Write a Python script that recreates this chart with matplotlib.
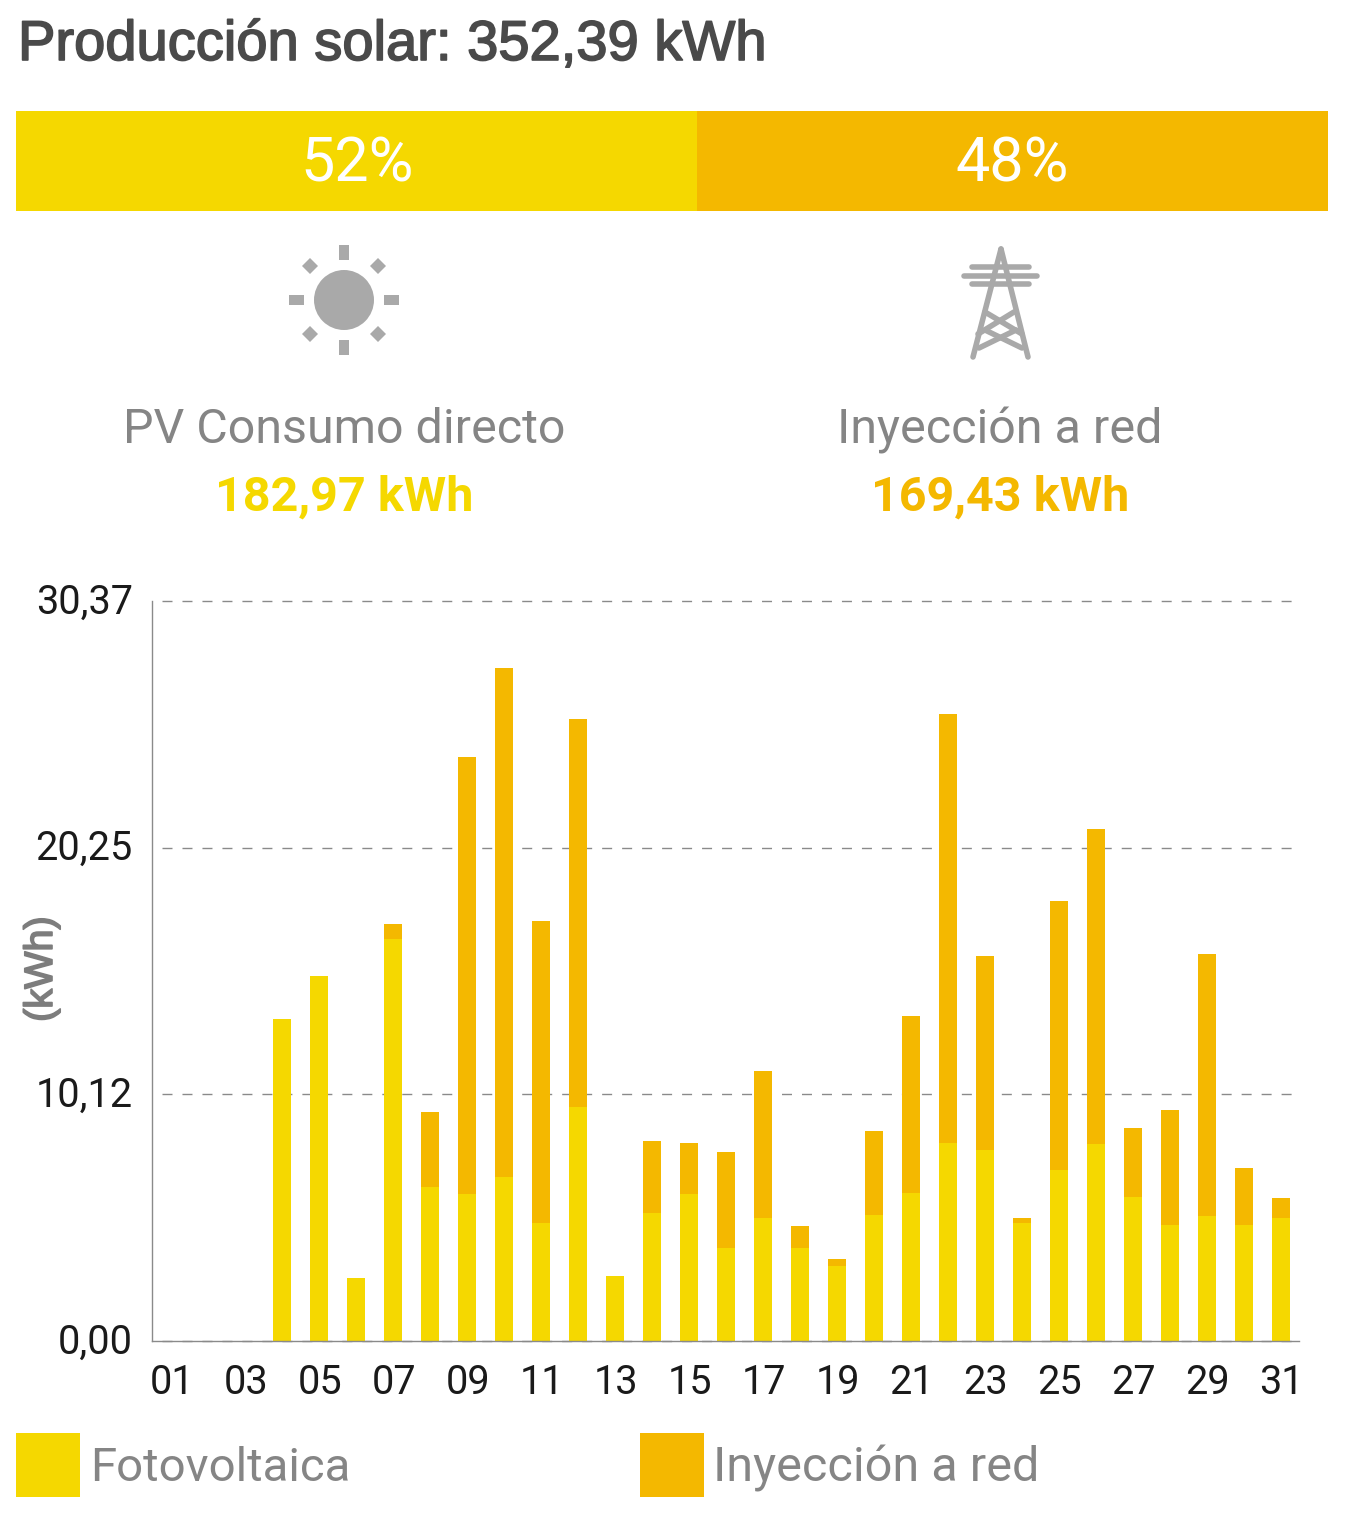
import matplotlib
matplotlib.use("Agg")
import matplotlib.pyplot as plt
import matplotlib.patheffects as pe
from matplotlib.transforms import ScaledTranslation
import numpy as np
from matplotlib.patches import Circle, Rectangle, Polygon

days = list(range(1, 32))
fotovoltaica = [0, 0, 0, 13.21, 14.98, 2.59, 16.50, 6.32, 6.03, 6.73, 4.84, 9.60, 2.67, 5.25, 6.03, 3.82,
                5.05, 3.82, 3.08, 5.17, 6.07, 8.12, 7.84, 4.84, 7.02, 8.08, 5.91, 4.76, 5.13, 4.76, 5.05]
inyeccion = [0, 0, 0, 0, 0, 0, 0.61, 3.08, 17.94, 20.89, 12.40, 15.92, 0, 2.96, 2.09, 3.94,
             6.03, 0.90, 0.28, 3.45, 7.27, 17.61, 7.96, 0.21, 11.04, 12.93, 2.83, 4.72, 10.75, 2.34, 0.82]
yticks = [0.00, 10.12, 20.25, 30.37]
ytick_labels = ["0,00", "10,12", "20,25", "30,37"]
xtick_days = days[::2]
xtick_labels = [f"{d:02d}" for d in xtick_days]
shares_kwh = [182.97, 169.43]
share_labels = ["52%", "48%"]

YEL = "#f5d800"
ORA = "#f4b800"
GREY = "#858585"
LINE = "#8a8a8a"
ICON = "#a9a9a9"
W, H = 1352, 1532
FONT = "Roboto"

fig = plt.figure(figsize=(W / 100, H / 100), dpi=100, facecolor="white")


def px_axes(l, t, r, b):
    return fig.add_axes([l / W, 1 - b / H, (r - l) / W, (b - t) / H])


# canvas in pixels for the text and icons
cv = fig.add_axes([0, 0, 1, 1], zorder=3)
cv.set_xlim(0, W)
cv.set_ylim(H, 0)
cv.axis("off")
cv.patch.set_alpha(0)

cv.text(18, 46, "Producción solar: 352,39 kWh", family="Liberation Sans",
        fontsize=40.4, color="#4a4a4a", ha="left", va="center",
        path_effects=[pe.withStroke(linewidth=1.2, foreground="#4a4a4a")])

# share bar
sb = px_axes(16, 111, 1328, 211)
sb.barh([0], [shares_kwh[0]], left=0, height=1, color=YEL)
sb.barh([0], [shares_kwh[1]], left=shares_kwh[0], height=1, color=ORA)
sb.set_xlim(0, sum(shares_kwh))
sb.set_ylim(-0.5, 0.5)
sb.axis("off")
cv.text(357, 165, share_labels[0], family=FONT, fontsize=44, color="white", ha="center", va="center")
cv.text(1012, 165, share_labels[1], family=FONT, fontsize=44, color="white", ha="center", va="center")

# sun icon
cx, cy = 344, 300
cv.add_patch(Circle((cx, cy), 30, color=ICON, lw=0))
for dx, dy, w, h in [(0, -47.5, 10, 15), (0, 47.5, 10, 15), (-47.5, 0, 15, 10), (47.5, 0, 15, 10)]:
    cv.add_patch(Rectangle((cx + dx - w / 2, cy + dy - h / 2), w, h, color=ICON, lw=0))
for dx, dy in [(-34, -34), (34, -34), (-34, 34), (34, 34)]:
    px, py = cx + dx, cy + dy
    cv.add_patch(Polygon([(px - 8, py), (px, py - 8), (px + 8, py), (px, py + 8)], color=ICON, lw=0))

# tower icon
segments = [
    ((1001, 249), (973, 357)), ((1001, 249), (1028, 357)),
    ((972, 267), (1029, 267)), ((964, 276), (1037, 276)), ((972, 284), (1029, 284)),
    ((985, 312), (1022, 334)), ((1014, 312), (978, 334)),
    ((979, 348), (1016, 330)), ((1022, 348), (985, 330)),
]
for a, b in segments:
    cv.plot([a[0], b[0]], [a[1], b[1]], color=ICON, lw=4, solid_capstyle="round")

cv.text(344, 430, "PV Consumo directo", family=FONT, fontsize=34.8, color=GREY, ha="center", va="center")
cv.text(1000, 430, "Inyección a red", family=FONT, fontsize=34.9, color=GREY, ha="center", va="center")
cv.text(344, 497.5, "182,97 kWh", family=FONT, weight="bold", fontsize=34.9, color=YEL, ha="center", va="center")
cv.text(1000, 497.5, "169,43 kWh", family=FONT, weight="bold", fontsize=34.9, color=ORA, ha="center", va="center")

# main chart
ax = px_axes(152.3, 601, 1299.3, 1341)
ax.set_xlim(0.5, 31.5)
ax.set_ylim(yticks[0], yticks[-1])
ax.bar(days, fotovoltaica, width=18.3 / 37, color=YEL, zorder=2)
ax.bar(days, inyeccion, bottom=fotovoltaica, width=18.3 / 37, color=ORA, zorder=2)
for v in yticks:
    ax.axhline(v, xmin=10 / 1147, xmax=1141 / 1147, color=LINE, lw=1.0, ls=(0, (10 / 1.39, 10 / 1.39)),
               zorder=1, clip_on=False)
for s in ("top", "right"):
    ax.spines[s].set_visible(False)
for s in ("left", "bottom"):
    ax.spines[s].set_color(LINE)
    ax.spines[s].set_linewidth(1.0)
ax.set_yticks(yticks, ytick_labels, family=FONT, fontsize=28.5, color="#1a1a1a")
ax.set_xticks(xtick_days, xtick_labels, family=FONT, fontsize=28.5, color="#1a1a1a")
ax.tick_params(axis="both", length=0)
ax.tick_params(axis="y", pad=14)
ax.tick_params(axis="x", pad=15.5)
for t in ax.get_yticklabels():
    t.set_transform(t.get_transform() + ScaledTranslation(0, 3 / 100, fig.dpi_scale_trans))
for t in ax.get_xticklabels():
    t.set_transform(t.get_transform() + ScaledTranslation(1 / 100, 0, fig.dpi_scale_trans))
cv.text(41, 969, "(kWh)", family="Liberation Sans", fontsize=28.5, color="#7d7d7d",
        rotation=90, ha="center", va="center",
        path_effects=[pe.withStroke(linewidth=1.2, foreground="#7d7d7d")])

# legend
cv.add_patch(Rectangle((16, 1433), 64, 64, color=YEL, lw=0))
cv.add_patch(Rectangle((640, 1433), 64, 64, color=ORA, lw=0))
cv.text(90, 1468, "Fotovoltaica", family=FONT, fontsize=34.1, color=GREY, ha="left", va="center")
cv.text(713, 1468, "Inyección a red", family=FONT, fontsize=35, color=GREY, ha="left", va="center")

fig.savefig("out.png", dpi=100, facecolor="white")
